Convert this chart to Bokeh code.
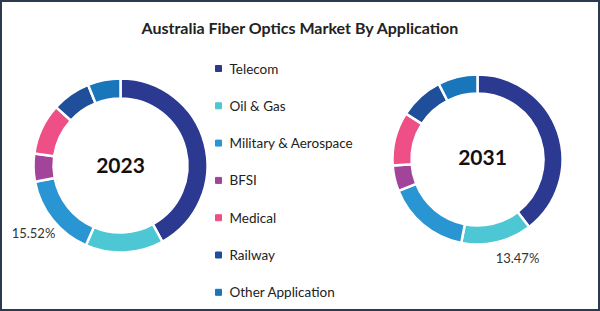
import numpy as np
from bokeh.plotting import figure
from bokeh.models import Range1d, ColumnDataSource, Label
from bokeh.core.properties import value
from bokeh.embed import file_html
from bokeh.resources import INLINE

categories = ["Telecom", "Oil & Gas", "Military & Aerospace", "BFSI", "Medical", "Railway", "Other Application"]
colors = ["#2b3990", "#4dc7d3", "#2a95d3", "#a3449b", "#ee4f86", "#1f4e9b", "#1a76bb"]
share_2023 = [42.0, 14.5, 15.52, 5.2, 9.5, 7.2, 6.08]
share_2031 = [39.6, 13.47, 15.9, 4.9, 10.2, 8.4, 7.53]
years = ["2023", "2031"]
labels = ["15.52%", "13.47%"]

W, H = 600, 311
FONT = "Lato"

p = figure(width=W, height=H, output_backend="svg", toolbar_location=None,
           x_range=Range1d(0, W), y_range=Range1d(0, H), min_border=0)
p.axis.visible = False
p.grid.visible = False
p.background_fill_color = "white"
p.border_fill_color = "white"
p.outline_line_color = "#2b3a4c"
p.outline_line_width = 3

def Y(y):
    return H - y

def donut(shares, cx, cy, r_in, r_out):
    s = np.array(shares, dtype=float)
    frac = s / s.sum()
    cum = np.concatenate([[0], np.cumsum(frac)])
    start = np.pi / 2 - cum[:-1] * 2 * np.pi
    end = np.pi / 2 - cum[1:] * 2 * np.pi
    src = ColumnDataSource(dict(start=start, end=end, color=colors))
    p.annular_wedge(x=cx, y=Y(cy), inner_radius=r_in, outer_radius=r_out,
                    start_angle="start", end_angle="end", direction="clock",
                    fill_color="color", line_color="white", line_width=2.5,
                    source=src)

donut(share_2023, 120, 165, 67, 87)
donut(share_2031, 477, 159, 66, 85)

p.add_layout(Label(x=120, y=Y(165), text=years[0], text_font=FONT, text_font_size="21px",
                   text_font_style="bold", text_color="#111111", text_align="center",
                   text_baseline="middle"))
p.add_layout(Label(x=482, y=Y(157), text=years[1], text_font=FONT, text_font_size="21px",
                   text_font_style="bold", text_color="#111111", text_align="center",
                   text_baseline="middle"))

p.add_layout(Label(x=33, y=Y(232), text=labels[0], text_font=FONT, text_font_size="13px",
                   text_color="#333333", text_align="center", text_baseline="middle"))
p.add_layout(Label(x=517, y=Y(257), text=labels[1], text_font=FONT, text_font_size="13px",
                   text_color="#333333", text_align="center", text_baseline="middle"))

p.add_layout(Label(x=300, y=Y(27), text="Australia Fiber Optics Market By Application",
                   text_font=FONT, text_font_size="16px", text_font_style="bold",
                   text_color="#222222", text_align="center", text_baseline="middle"))

# legend
leg_y = [68 + i * 37.3 for i in range(len(categories))]
leg_src = ColumnDataSource(dict(x=[218] * len(categories), y=[Y(v) for v in leg_y],
                                tx=[229] * len(categories), text=categories, color=colors))
p.scatter(x="x", y="y", marker="square", size=6, fill_color="color", line_color="color", source=leg_src)
p.text(x="tx", y="y", text="text", text_font=value(FONT), text_font_size="13.5px",
       text_color="#222222", text_baseline="middle", text_align="left", source=leg_src)

open("out.html", "w").write(file_html(p, INLINE))
